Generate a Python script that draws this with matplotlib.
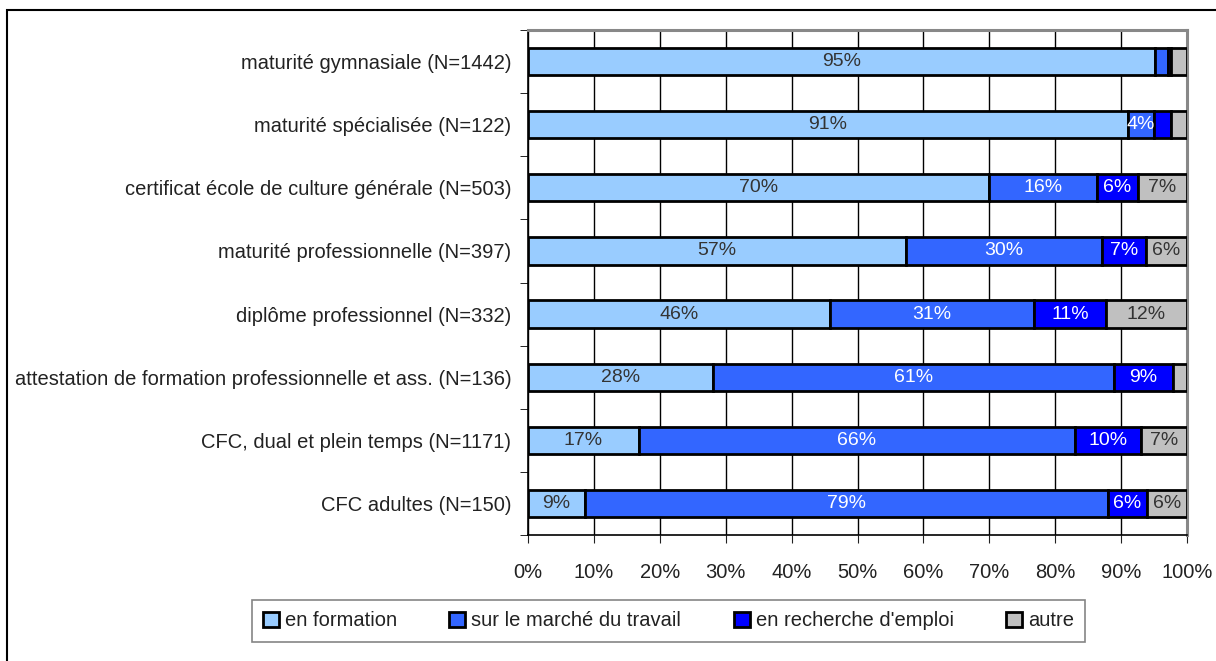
import matplotlib
matplotlib.use("Agg")
import matplotlib.pyplot as plt
import numpy as np
from matplotlib.patches import Rectangle

plt.rcParams['font.family'] = ['Liberation Sans', 'DejaVu Sans']

categories = [
    "maturité gymnasiale (N=1442)",
    "maturité spécialisée (N=122)",
    "certificat école de culture générale (N=503)",
    "maturité professionnelle (N=397)",
    "diplôme professionnel (N=332)",
    "attestation de formation professionnelle et ass. (N=136)",
    "CFC, dual et plein temps (N=1171)",
    "CFC adultes (N=150)",
]
series = ["en formation", "sur le marché du travail", "en recherche d'emploi", "autre"]

en_formation = [95.1, 91.0, 70.0, 57.4, 45.8, 28.1, 16.8, 8.6]
marche_travail = [2.0, 4.0, 16.3, 29.7, 31.0, 60.8, 66.2, 79.4]
recherche_emploi = [0.5, 2.5, 6.3, 6.7, 10.9, 9.0, 10.0, 5.9]
autre = [2.4, 2.5, 7.4, 6.2, 12.3, 2.1, 7.0, 6.1]

colors = ["#99ccff", "#3366ff", "#0000ff", "#c0c0c0"]
text_colors = ["#333333", "white", "white", "#333333"]

fig = plt.figure(figsize=(12.16, 6.61), dpi=100)
ax = fig.add_axes([528 / 1216, 1 - 535 / 661, (1187 - 528) / 1216, (535 - 30) / 661])

# cadre extérieur du graphique
fig.patches.append(Rectangle((7 / 1216, -0.1), 1.2, 1 - 10 / 661 + 0.1,
                             transform=fig.transFigure, fill=False,
                             edgecolor="black", linewidth=1.5))

y = np.arange(len(categories))
left = np.zeros(len(categories))
handles = []
for vals, col, tcol, name in zip([en_formation, marche_travail, recherche_emploi, autre],
                                 colors, text_colors, series):
    vals = np.array(vals)
    b = ax.barh(y, vals, left=left, height=0.43, color=col, edgecolor="black",
                linewidth=2, label=name, zorder=3)
    handles.append(b)
    for yi, l, v in zip(y, left, vals):
        if v >= 3.5:
            ax.text(l + v / 2, yi, f"{round(v):.0f}%", ha="center", va="center",
                    color=tcol, fontsize=14, zorder=4)
    left = left + vals

ax.set_xlim(0, 100)
ax.set_ylim(len(categories) - 0.5, -0.5)
ax.set_xticks(np.arange(0, 101, 10))
ax.set_xticklabels([f"{v}%" for v in range(0, 101, 10)], fontsize=14.5)
ax.set_yticks(y)
ax.set_yticklabels(categories, fontsize=14.5)
ax.tick_params(axis="y", length=0, pad=12, colors="#222222")
ax.set_yticks(np.arange(-0.5, len(categories), 1), minor=True)
ax.tick_params(axis="y", which="minor", length=6, direction="out")
ax.tick_params(axis="x", length=6, direction="out", pad=14, colors="#222222")
ax.xaxis.grid(True, color="black", linewidth=1, zorder=0)
ax.set_axisbelow(True)

for s in ["top", "right"]:
    ax.spines[s].set_color("#888888")
    ax.spines[s].set_linewidth(2.2)
for s in ["left", "bottom"]:
    ax.spines[s].set_color("black")
    ax.spines[s].set_linewidth(1.2)

leg = fig.legend(handles=handles, loc="center", ncol=4,
                 bbox_to_anchor=((255 + 1082) / 2 / 1216, 1 - 621 / 661),
                 fontsize=14.5, frameon=True, fancybox=False, edgecolor="#666666",
                 handlelength=0.8, handleheight=0.8, handletextpad=0.3,
                 columnspacing=2.6, borderpad=0.55)
leg.get_frame().set_linewidth(1.2)
for t in leg.get_texts():
    t.set_color("#222222")

fig.savefig("out.png", dpi=100)
